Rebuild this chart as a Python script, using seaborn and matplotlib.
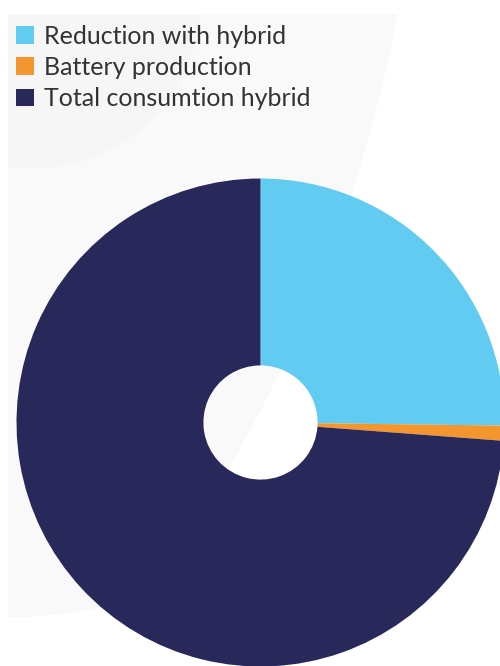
import numpy as np
import matplotlib
matplotlib.use("Agg")
import matplotlib.pyplot as plt
from matplotlib.patches import Polygon, Circle, Patch
import seaborn as sns

# Share of total consumption (percent)
labels = ["Reduction with hybrid", "Battery production", "Total consumtion hybrid"]
shares = [25.2, 1.0, 73.8]
colors = ["#62cbf1", "#f4962f", "#29285a"]

sns.set_theme(style="white")
plt.rcParams["font.family"] = ["Lato", "DejaVu Sans"]
palette = sns.color_palette(colors)

W, H = 500, 666
fig = plt.figure(figsize=(W / 100, H / 100), dpi=100)
fig.patch.set_facecolor("white")

# Decorative backdrop in pixel coordinates
bg = fig.add_axes([0, 0, 1, 1])
bg.set_xlim(0, W)
bg.set_ylim(H, 0)
bg.axis("off")

cx, cy, r = -1024.0, -256.0, 1447.0
ys = np.linspace(14, 600, 60)
xs = cx + np.sqrt(r ** 2 - (ys - cy) ** 2)
edge = list(zip(xs, ys))
bottom = [(110, 606), (70, 613), (30, 617), (8, 617)]
shape = Polygon([(8, 14)] + edge + bottom, closed=True,
                facecolor="#f9f9f9", edgecolor="none")
bg.add_patch(shape)
corner = Circle((33, 0), 168, facecolor="#f6f6f6", edgecolor="none")
corner.set_clip_path(shape)
bg.add_patch(corner)

# Donut chart
pcx, pcy, pr = 260.5, 422.5, 244.0
ax = fig.add_axes([(pcx - pr) / W, (H - pcy - pr) / H, 2 * pr / W, 2 * pr / H])
ax.pie(shares, colors=palette, startangle=90, counterclock=False, radius=1,
       wedgeprops=dict(width=0.766, linewidth=0))
ax.set_aspect("auto")
ax.set_xlim(-1, 1)
ax.set_ylim(-1, 1)
ax.axis("off")
ax.patch.set_alpha(0)

handles = [Patch(facecolor=c, edgecolor="none") for c in palette]
fig.legend(handles, labels, loc="upper left", bbox_to_anchor=(0.012, 0.978),
           frameon=False, fontsize=18, handlelength=0.72, handleheight=0.72,
           handletextpad=0.4, labelspacing=0.33, labelcolor="#333333",
           borderaxespad=0)

fig.savefig("out.png", dpi=100)
